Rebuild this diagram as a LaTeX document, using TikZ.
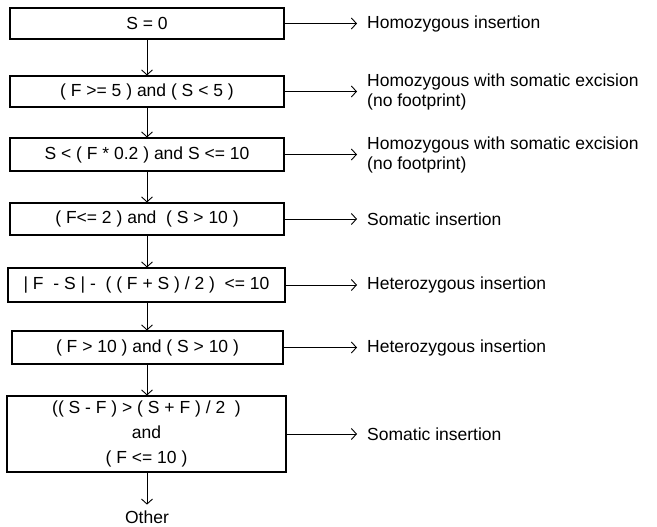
\documentclass[tikz,border=0pt]{standalone}
\usepackage{fontspec}
\setmainfont{Liberation Sans}
\usetikzlibrary{arrows.meta}
\tikzset{
  cond/.style={draw, line width=1.1pt, minimum width=274pt, inner sep=0pt, align=center,
    font=\fontsize{17.5}{25}\selectfont},
  res/.style={anchor=west, inner sep=0pt, align=left, font=\fontsize{17.5}{20}\selectfont},
  arr/.style={line width=0.9pt, -{Straight Barb[length=5pt,width=11pt]}},
}
\begin{document}
\begin{tikzpicture}[x=1pt,y=-1pt]
\useasboundingbox (0,0) rectangle (657,527);
\node[cond, minimum height=31pt] (b1) at (147,23.5) {S = 0};
\node[cond, minimum height=31pt] (b2) at (147,91.5) {( F >= 5 ) and ( S < 5 )};
\node[cond, minimum height=33pt] (b3) at (147,154.5) {S < ( F * 0.2 ) and S <= 10};
\node[cond, minimum height=32pt] (b4) at (147,219) {( F<= 2 ) and \ ( S > 10 )};
\node[cond, minimum height=34pt, minimum width=277pt] (b5) at (146.5,285) {| F \ - S | - \ ( ( F + S ) / 2 ) \ <= 10};
\node[cond, minimum height=33pt, minimum width=271pt] (b6) at (147.5,347.5) {( F > 10 ) and ( S > 10 )};
\node[cond, minimum height=76pt, minimum width=279pt] (b7) at (146.5,434) {(( S - F ) > ( S + F ) / 2 \ )\\and\\( F <= 10 )};
\node[anchor=base, inner sep=0pt, font=\fontsize{17.5}{20}\selectfont] (other) at (147,523.5) {Other};

\node[res] (l1) at (367,23.5) {Homozygous insertion};
\node[res] (l2) at (367,91.5) {Homozygous with somatic excision\\(no footprint)};
\node[res] (l3) at (367,154.5) {Homozygous with somatic excision\\(no footprint)};
\node[res] (l4) at (367,219) {Somatic insertion};
\node[res] (l5) at (367,285) {Heterozygous insertion};
\node[res] (l6) at (367,347.5) {Heterozygous insertion};
\node[res] (l7) at (367,434) {Somatic insertion};

\foreach \i in {1,...,7} {
  \draw[arr, shorten >=10pt] (b\i.east) -- (b\i.east -| l\i.west);
}
\foreach \i/\j in {1/2,2/3,3/4,4/5,5/6,6/7} {
  \draw[arr] (b\i.south -| 147,0) -- (b\j.north -| 147,0);
}
\draw[arr, shorten >=6pt] (b7.south -| 147,0) -- (other.north);
\end{tikzpicture}
\end{document}
